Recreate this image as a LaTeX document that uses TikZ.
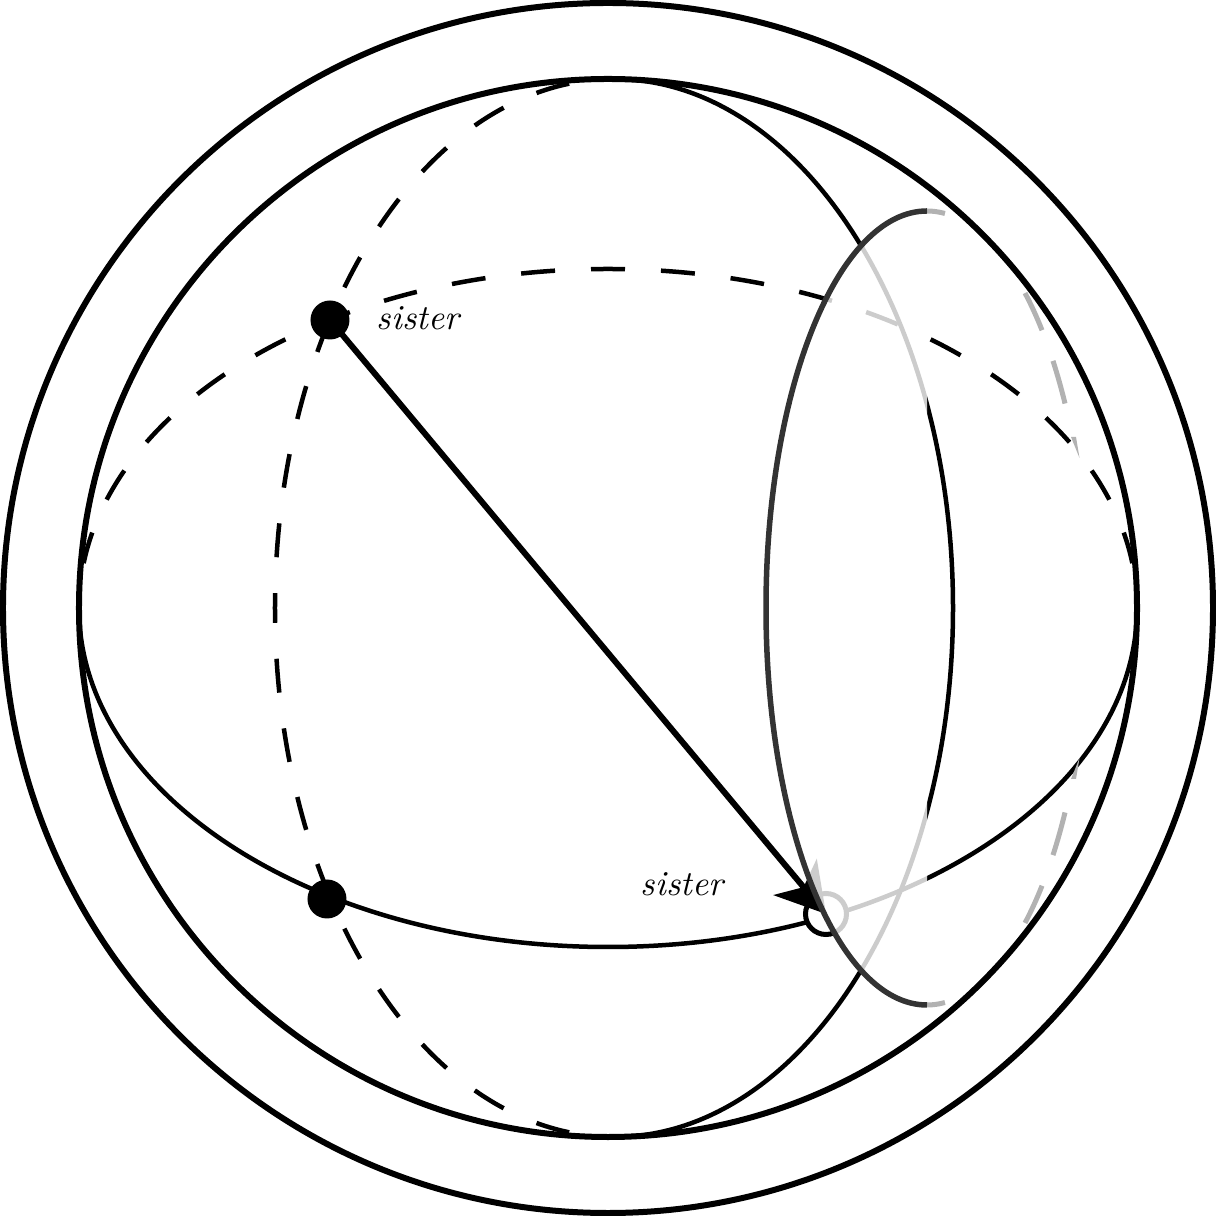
\documentclass[tikz,border=0pt]{standalone}
\usepackage{tikz}
\usetikzlibrary{arrows.meta}
\tikzset{
    bigring/.style={line width=0.06cm, black},
    thinline/.style={line width=0.045cm, black},
    dashline/.style={line width=0.045cm, black, dash pattern=on 0.34cm off 0.36cm, dash phase=0.17cm},
    backdash/.style={line width=0.05cm, black!30},
    bluntdot/.style={circle, fill=black, inner sep=0pt, minimum size=0.39cm},
    ringdot/.style={circle, draw=black, line width=0.05cm, fill=white, inner sep=0pt, minimum size=0.41cm},
    sisterlabel/.style={font=\itshape\fontsize{10}{12}\selectfont}
}
\begin{document}
\begin{tikzpicture}
    \useasboundingbox (-6.08,-6.08) rectangle (6.08,6.08);
    % sphere outlines
    \draw[bigring] (0,0) circle (6.05cm);
    \draw[bigring] (0,0) circle (5.29cm);

    % equator
    \draw[dashline] (0,3.39) arc[start angle=90, end angle=7.6, x radius=5.29, y radius=3.39];
    \draw[dashline] (0,3.39) arc[start angle=90, end angle=172.4, x radius=5.29, y radius=3.39];
    \draw[thinline] (-5.29,0) arc[start angle=180, end angle=360, x radius=5.29, y radius=3.39];

    % meridian
    \begin{scope}[shift={(0.06,0)}]
        \draw[thinline] (90:3.39 and 5.29) arc[start angle=90, end angle=-90, x radius=3.39, y radius=5.29];
        \draw[dashline, dash phase=0cm] (97.6:3.39 and 5.29) arc[start angle=97.6, end angle=180, x radius=3.39, y radius=5.29];
        \draw[dashline, dash phase=0cm] (-97.6:3.39 and 5.29) arc[start angle=-97.6, end angle=-180, x radius=3.39, y radius=5.29];
    \end{scope}

    % points
    \node[bluntdot] (dota) at (-2.78,2.88) {};
    \node[bluntdot] (dotb) at (-2.81,-2.91) {};
    \node[ringdot] (ringc) at (2.18,-3.06) {};
    \node[sisterlabel] (sistera) at (-1.90,2.90) {sister};
    \node[sisterlabel] (sisterb) at (0.74,-2.76) {sister};

    % arrow
    \draw[line width=0.06cm, -{Stealth[length=0.48cm, width=0.56cm, inset=0.13cm]}] (dota.center) -- (ringc.center);

    % back of the small circle
    \begin{scope}[shift={(3.19,0)}]
        \draw[backdash] (90:1.61 and 3.97) arc[start angle=90, end angle=83.6, x radius=1.61, y radius=3.97];
        \draw[backdash] (-90:1.61 and 3.97) arc[start angle=-90, end angle=-83.6, x radius=1.61, y radius=3.97];
        \foreach \a/\b in {52.5/44.4, 38.5/31} {
            \draw[backdash] (\a:1.61 and 3.97) arc[start angle=\a, end angle=\b, x radius=1.61, y radius=3.97];
            \draw[backdash] (-\a:1.61 and 3.97) arc[start angle=-\a, end angle=-\b, x radius=1.61, y radius=3.97];
        }
        % veil over the front half
        \fill[white, opacity=0.8] (90:1.61 and 3.97) arc[start angle=90, end angle=270, x radius=1.61, y radius=3.97] -- cycle;
        \draw[line width=0.055cm, black!80] (90:1.61 and 3.97) arc[start angle=90, end angle=270, x radius=1.61, y radius=3.97];
    \end{scope}
    \fill[black!30] (4.63,1.71) -- (4.68,1.71) -- (4.715,1.50) -- cycle;
    \fill[black!30] (4.63,-1.71) -- (4.68,-1.71) -- (4.715,-1.50) -- cycle;
\end{tikzpicture}
\end{document}
